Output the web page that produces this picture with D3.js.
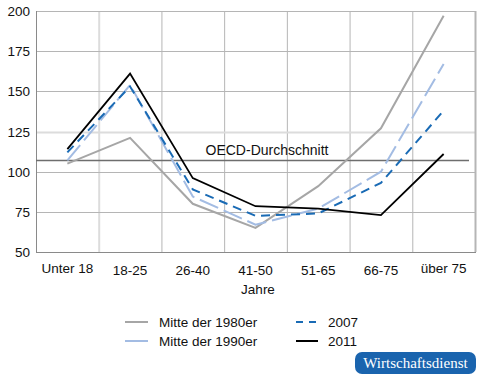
<!DOCTYPE html>
<html><head><meta charset="utf-8">
<script src="https://cdn.jsdelivr.net/npm/d3@7"></script>
<style>body{margin:0;background:#fff}svg{display:block}text{font-family:"Liberation Sans",Arial,sans-serif}text.badge{font-family:"Liberation Serif","DejaVu Serif",serif}</style>
</head><body><svg id="c" width="485" height="378"></svg>
<script>
const categories = ["Unter 18","18-25","26-40","41-50","51-65","66-75","über 75"];
const yTicks = [50,75,100,125,150,175,200];
const mitte1980 = [105,121,80,65,91,127,197];
const mitte1990 = [107,154,84.5,67,77,100,167];
const s2007 = [112,153,89,72.5,74,93,138];
const s2011 = [114,161,96,78.5,77,73,111];
const oecd = 107.5;
const seriesNames = ["Mitte der 1980er","Mitte der 1990er","2007","2011"];

const svg = d3.select("#c");
const L=36,R=475,T=11,B=252;
const x = d3.scaleBand().domain(categories).range([L,R]);
const y = d3.scaleLinear().domain([50,200]).range([B,T]);

const g = svg.append("g");
// grid
g.selectAll(".vg").data(categories.slice(1)).enter().append("line")
 .attr("x1",d=>x(d)+0.5).attr("x2",d=>x(d)+0.5).attr("y1",T).attr("y2",B)
 .attr("stroke",(d,i)=>i===0?"#dcdcdc":"#b5b5b5").attr("stroke-width",(d,i)=>i===0?2:1);
g.selectAll(".hg").data(yTicks.slice(1)).enter().append("line")
 .attr("x1",L).attr("x2",R).attr("y1",d=>Math.round(y(d))+0.5).attr("y2",d=>Math.round(y(d))+0.5)
 .attr("stroke",d=>d===125?"#dcdcdc":"#b5b5b5").attr("stroke-width",d=>d===125?2:1);
// right border
g.append("line").attr("x1",R+0.5).attr("x2",R+0.5).attr("y1",T).attr("y2",B).attr("stroke","#b5b5b5").attr("stroke-width",2);
// axes
g.append("line").attr("x1",L+0.5).attr("x2",L+0.5).attr("y1",T).attr("y2",B+0.5).attr("stroke","#8a8a8a");
g.append("line").attr("x1",L).attr("x2",R+1).attr("y1",B+0.5).attr("y2",B+0.5).attr("stroke","#8a8a8a");

// y labels
g.selectAll(".yl").data(yTicks).enter().append("text")
 .attr("x",30).attr("y",d=>y(d)+5).attr("text-anchor","end").attr("font-size",13.5).attr("fill","#111").text(d=>d);
// x labels
g.selectAll(".xl").data(categories).enter().append("text")
 .attr("x",d=>x(d)+x.bandwidth()/2).attr("y",(d,i)=>i===0||i===6?273:275).attr("text-anchor","middle")
 .attr("font-size",13.5).attr("fill","#111").text(d=>d);
g.append("text").attr("x",258).attr("y",294).attr("text-anchor","middle").attr("font-size",13.5).attr("fill","#111").text("Jahre");

// OECD line
g.append("line").attr("x1",L).attr("x2",469).attr("y1",Math.round(y(oecd))+0.5).attr("y2",Math.round(y(oecd))+0.5).attr("stroke","#6e6e6e").attr("stroke-width",1.3);
g.append("text").attr("x",267).attr("y",y(oecd)-5).attr("text-anchor","middle").attr("font-size",14).attr("fill","#111").text("OECD-Durchschnitt");

const line = d3.line().x((d,i)=>x(categories[i])+x.bandwidth()/2).y(d=>y(d));
const styles = [
 {data:mitte1980,color:"#a6a6a6",w:2,dash:null},
 {data:mitte1990,color:"#a3bce3",w:2,dash:"20,6"},
 {data:s2007,color:"#1a6bb5",w:2,dash:"9,6"},
 {data:s2011,color:"#000",w:1.8,dash:null}
];
styles.forEach(s=>{
 g.append("path").datum(s.data).attr("d",line).attr("fill","none").attr("stroke",s.color)
  .attr("stroke-width",s.w).attr("stroke-dasharray",s.dash).attr("stroke-linejoin","miter");
});

// legend
const leg = [
 {name:seriesNames[0],color:"#a6a6a6",dash:null,x1:125,x2:148,tx:159,y:322},
 {name:seriesNames[1],color:"#a3bce3",dash:null,x1:125,x2:148,tx:159,y:341},
 {name:seriesNames[2],color:"#1a6bb5",dash:"7,6",x1:296,x2:318,tx:328,y:322},
 {name:seriesNames[3],color:"#000",dash:null,x1:296,x2:318,tx:328,y:341}
];
leg.forEach(l=>{
 g.append("line").attr("x1",l.x1).attr("x2",l.x2).attr("y1",l.y).attr("y2",l.y).attr("stroke",l.color).attr("stroke-width",2).attr("stroke-dasharray",l.dash);
 g.append("text").attr("x",l.tx).attr("y",l.y+5).attr("font-size",13.5).attr("fill","#111").text(l.name);
});

// badge
g.append("rect").attr("x",355).attr("y",352).attr("width",121).attr("height",22).attr("rx",7).attr("fill","#1a64ae");
g.append("text").attr("class","badge").attr("x",415.5).attr("y",368).attr("text-anchor","middle").attr("font-size",15)
 .attr("fill","#fff").text("Wirtschaftsdienst");
</script></body></html>
